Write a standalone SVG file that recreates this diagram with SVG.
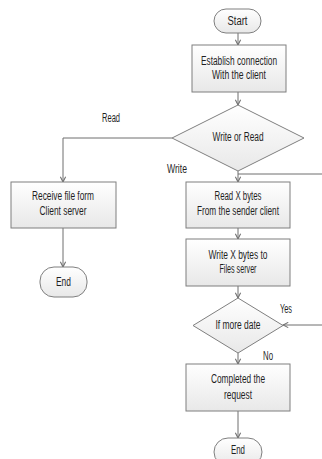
<svg xmlns="http://www.w3.org/2000/svg" width="322" height="459" viewBox="0 0 322 459">
<defs>
<linearGradient id="g" x1="0" y1="0" x2="0" y2="1">
<stop offset="0" stop-color="#ffffff"/>
<stop offset="1" stop-color="#e8e8e8"/>
</linearGradient>
<marker id="arr" viewBox="0 0 8 8" refX="7" refY="4" markerWidth="7" markerHeight="7" markerUnits="userSpaceOnUse" orient="auto">
<path d="M1,1 L7,4 L1,7" fill="none" stroke="#6e6e6e" stroke-width="1.2"/>
</marker>
</defs>
<style>
.s{fill:url(#g);stroke:#7f7f7f;stroke-width:1}
.t{font-family:"Liberation Sans",Arial,sans-serif;font-size:12px;fill:#1f1f1f;text-anchor:middle}
.l{font-family:"Liberation Sans",Arial,sans-serif;font-size:12px;fill:#1f1f1f}
.c{fill:none;stroke:#6e6e6e;stroke-width:1}
</style>
<rect width="322" height="459" fill="#ffffff"/>
<g id="connectors">
<path class="c" d="M238,33 V45" marker-end="url(#arr)"/>
<path class="c" d="M238,92 V105" marker-end="url(#arr)"/>
<path class="c" d="M172,138 H63 V182" marker-end="url(#arr)"/>
<path class="c" d="M238,171 V182" marker-end="url(#arr)"/>
<path class="c" d="M238,174 H322"/>
<path class="c" d="M63,228 V267" marker-end="url(#arr)"/>
<path class="c" d="M238,228 V239" marker-end="url(#arr)"/>
<path class="c" d="M238,286 V298" marker-end="url(#arr)"/>
<path class="c" d="M322,325 H283" marker-end="url(#arr)"/>
<path class="c" d="M238,353 V364" marker-end="url(#arr)"/>
<path class="c" d="M238,411 V438" marker-end="url(#arr)"/>
<text class="l" x="102" y="122" textLength="18" lengthAdjust="spacingAndGlyphs">Read</text>
<text class="l" x="167" y="173" textLength="20" lengthAdjust="spacingAndGlyphs">Write</text>
<text class="l" x="280" y="313" textLength="12" lengthAdjust="spacingAndGlyphs">Yes</text>
<text class="l" x="263" y="360" textLength="10" lengthAdjust="spacingAndGlyphs">No</text>
</g>
<g id="start">
<rect class="s" x="214" y="9" width="47" height="24" rx="12" ry="12"/>
<text class="t" x="237.5" y="25" textLength="20" lengthAdjust="spacingAndGlyphs">Start</text>
</g>
<g id="establish">
<rect class="s" x="192" y="45" width="94" height="47"/>
<text class="t" x="239" y="65" textLength="76" lengthAdjust="spacingAndGlyphs">Establish connection</text>
<text class="t" x="239" y="79" textLength="54" lengthAdjust="spacingAndGlyphs">With the client</text>
</g>
<g id="writeorread">
<polygon class="s" points="238,105 304,138 238,171 172,138"/>
<text class="t" x="238" y="141" textLength="51" lengthAdjust="spacingAndGlyphs">Write or Read</text>
</g>
<g id="receive">
<rect class="s" x="11" y="182" width="105" height="46"/>
<text class="t" x="63" y="200" textLength="62" lengthAdjust="spacingAndGlyphs">Receive file form</text>
<text class="t" x="63" y="215" textLength="47" lengthAdjust="spacingAndGlyphs">Client server</text>
</g>
<g id="end1">
<rect class="s" x="40" y="267" width="47" height="30" rx="14" ry="14"/>
<text class="t" x="63.5" y="286" textLength="15" lengthAdjust="spacingAndGlyphs">End</text>
</g>
<g id="readx">
<rect class="s" x="186" y="182" width="104" height="46"/>
<text class="t" x="238" y="200" textLength="47" lengthAdjust="spacingAndGlyphs">Read X bytes</text>
<text class="t" x="238" y="215" textLength="82" lengthAdjust="spacingAndGlyphs">From the sender client</text>
</g>
<g id="writex">
<rect class="s" x="186" y="239" width="104" height="47"/>
<text class="t" x="238" y="259" textLength="59" lengthAdjust="spacingAndGlyphs">Write X bytes to</text>
<text class="t" x="238" y="273" textLength="37" lengthAdjust="spacingAndGlyphs">Files server</text>
</g>
<g id="ifmore">
<polygon class="s" points="238,298 283,325.5 238,353 193,325.5"/>
<text class="t" x="238" y="329" textLength="45" lengthAdjust="spacingAndGlyphs">If more date</text>
</g>
<g id="completed">
<rect class="s" x="186" y="364" width="104" height="47"/>
<text class="t" x="238" y="383" textLength="54" lengthAdjust="spacingAndGlyphs">Completed the</text>
<text class="t" x="238" y="399" textLength="28" lengthAdjust="spacingAndGlyphs">request</text>
</g>
<g id="end2">
<rect class="s" x="214" y="438" width="48" height="28" rx="14" ry="14"/>
<text class="t" x="238" y="454" textLength="14" lengthAdjust="spacingAndGlyphs">End</text>
</g>
</svg>
